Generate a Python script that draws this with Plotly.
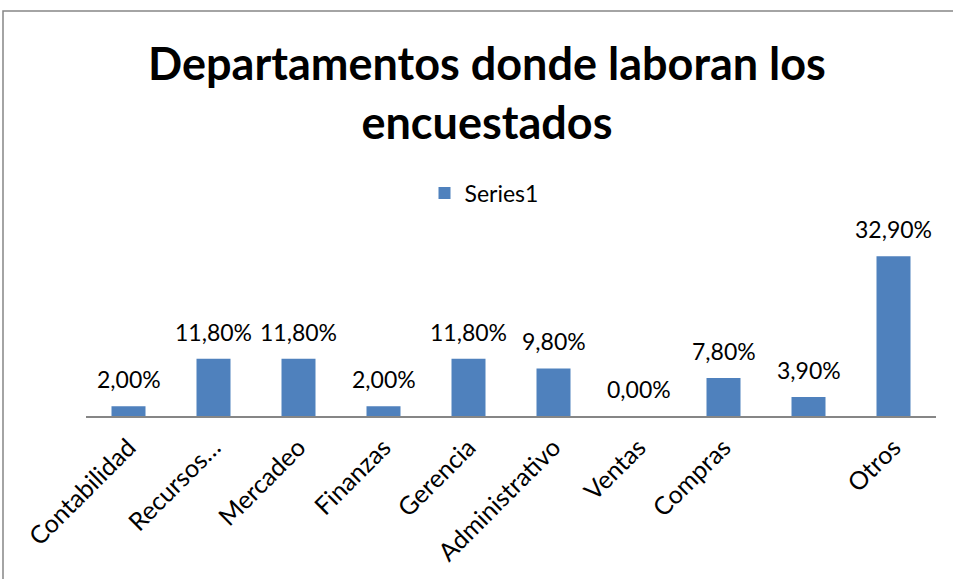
import plotly.graph_objects as go

categories = ["Contabilidad", "Recursos…", "Mercadeo", "Finanzas", "Gerencia",
              "Administrativo", "Ventas", "Compras", " ", "Otros"]
values = [2.0, 11.8, 11.8, 2.0, 11.8, 9.8, 0.0, 7.8, 3.9, 32.9]
series_name = "Series1"
title_text = "Departamentos donde laboran los<br>encuestados"

BAR = "#4F81BD"
FONT = "Lato, Calibri, 'Open Sans', sans-serif"

fig = go.Figure()
fig.add_trace(go.Bar(
    x=categories, y=values, name=series_name,
    marker=dict(color=BAR, line=dict(width=0)),
    showlegend=True,
))

annotations = []
for c, v in zip(categories, values):
    annotations.append(dict(
        x=c, y=v, xref="x", yref="y",
        text=f"{v:.2f}".replace(".", ",") + "%",
        showarrow=False, yanchor="middle", yshift=27,
        font=dict(family=FONT, size=23, color="#000000"),
    ))

fig.update_layout(
    width=953, height=579,
    margin=dict(l=86, r=17, t=246, b=163),
    paper_bgcolor="white", plot_bgcolor="white",
    title=dict(text=title_text, x=0.511, xanchor="center",
               y=1 - 80 / 579, yanchor="middle", yref="container",
               font=dict(family=FONT, size=45, color="#000000", weight="bold")),
    bargap=0.6,
    showlegend=True,
    legend=dict(orientation="h", x=(511 - 27 - 86) / 850, xanchor="center",
                y=(416 - 193) / 170, yanchor="middle",
                font=dict(family=FONT, size=23, color="#000000"),
                bgcolor="rgba(0,0,0,0)"),
    xaxis=dict(showline=True, linecolor="#868686", linewidth=2, tickangle=-45,
               tickfont=dict(family=FONT, size=25, color="#000000"),
               ticks="", showgrid=False, zeroline=False, ticklabelstandoff=5),
    yaxis=dict(range=[0, 35], visible=False, showgrid=False, zeroline=False),
    annotations=annotations,
    shapes=[dict(type="rect", xref="paper", yref="paper",
                 x0=(3 - 86) / 850, x1=(1000 - 86) / 850,
                 y0=(416 - 640) / 170, y1=(416 - 11) / 170,
                 line=dict(color="#868686", width=1.5), fillcolor="rgba(0,0,0,0)",
                 layer="below")],
)

fig.write_html("out.html", config={"displayModeBar": False},
               post_script="document.body.style.margin='0';")
